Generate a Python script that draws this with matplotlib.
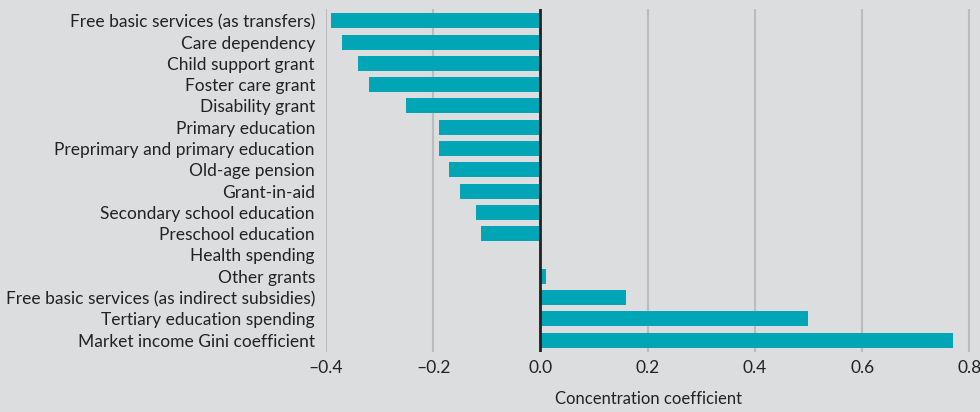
import matplotlib.pyplot as plt

categories = [
    "Free basic services (as transfers)",
    "Care dependency",
    "Child support grant",
    "Foster care grant",
    "Disability grant",
    "Primary education",
    "Preprimary and primary education",
    "Old-age pension",
    "Grant-in-aid",
    "Secondary school education",
    "Preschool education",
    "Health spending",
    "Other grants",
    "Free basic services (as indirect subsidies)",
    "Tertiary education spending",
    "Market income Gini coefficient",
]
values = [-0.39, -0.37, -0.34, -0.32, -0.25, -0.19, -0.19, -0.17, -0.15,
          -0.12, -0.11, 0.0, 0.01, 0.16, 0.50, 0.77]
xticks = [-0.4, -0.2, 0.0, 0.2, 0.4, 0.6, 0.8]
xticklabels = ["\u20130.4", "\u20130.2", "0.0", "0.2", "0.4", "0.6", "0.8"]

bg = "#dcdddf"
plt.rcParams["font.family"] = ["Lato", "DejaVu Sans"]

fig = plt.figure(figsize=(9.8, 4.12), dpi=100, facecolor=bg)
ax = fig.add_axes([0.3327, 0.146, 0.6673, 0.832])
ax.set_facecolor(bg)

pos = list(range(len(categories)))
ax.barh(pos, values, height=0.7, color="#00a6b6", zorder=3)
ax.axvline(0, color="#222222", lw=2, zorder=4)

ax.set_xlim(-0.4, 0.82)
ax.set_ylim(len(categories) - 0.45, -0.55)
ax.set_yticks(pos)
ax.set_yticklabels(categories, fontsize=12.5, color="#222222")
ax.set_xticks(xticks)
ax.set_xticklabels(xticklabels, fontsize=12.5, color="#222222")
ax.tick_params(axis="y", length=0, pad=8)
ax.tick_params(axis="x", length=0, pad=6)

ax.grid(axis="x", color="#bcbcbc", lw=1.5, zorder=1)
ax.grid(axis="y", visible=False)
for s in ax.spines.values():
    s.set_visible(False)

ax.set_xlabel("Concentration coefficient", fontsize=12, color="#222222")
ax.xaxis.set_label_coords((648 - 326) / (980 - 326), -0.115)

fig.savefig("out.png", dpi=100, facecolor=bg)
